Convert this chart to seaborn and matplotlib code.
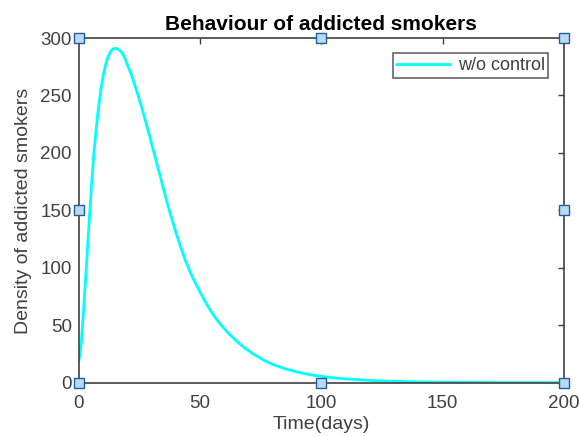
import numpy as np
import pandas as pd
import matplotlib
matplotlib.use("Agg")
import matplotlib.pyplot as plt
import seaborn as sns

# values
days = [0, 1, 2, 3, 4, 5, 6, 7, 8, 9, 10, 11, 12, 13, 14, 15, 16, 17, 18, 19,
        20, 22, 24, 26, 28, 30, 32, 34, 36, 38, 40, 42, 44, 46, 48, 50, 52,
        54, 56, 58, 60, 62, 64, 66, 68, 70, 72, 74, 76, 78, 80, 85, 90, 95,
        100, 105, 110, 120, 130, 140, 150, 175, 200]
smokers = [19, 35, 65, 98, 132, 165, 195, 218, 238, 254, 267, 276.5, 283.5,
           288, 290.5, 291, 290.5, 289, 286.5, 282.5,
           277, 266, 253, 239, 224, 208, 192, 176, 160, 145, 131, 118, 106,
           96, 87, 79, 71, 64, 57.5, 52, 47, 42.5, 38.5, 34.5, 31, 28, 25,
           22.5, 20, 18, 16, 12.3, 9.4, 7.2, 5.6, 4.3, 3.4, 2.1, 1.3, 0.8,
           0.5, 0.2, 0.1]

df = pd.DataFrame({"day": days, "smokers": smokers})

sns.set_style("white")
plt.rcParams["font.family"] = ["Liberation Sans", "DejaVu Sans"]

fig = plt.figure(figsize=(5.8, 4.37), dpi=100)
ax = fig.add_axes([0.136, 0.124, 0.836, 0.789])

sns.lineplot(data=df, x="day", y="smokers", color="#00FFFF", linewidth=2,
             label="w/o control", ax=ax)

ax.set_xlim(0, 200)
ax.set_ylim(0, 300)
ax.set_xticks([0, 50, 100, 150, 200])
ax.set_yticks([0, 50, 100, 150, 200, 250, 300])

grey = "#404040"
for s in ax.spines.values():
    s.set_color(grey)
    s.set_linewidth(1.2)
ax.tick_params(direction="in", length=4, width=1, colors=grey, labelsize=13.5,
               top=True, right=True, labelcolor=grey, pad=5)
ax.tick_params(axis="x", pad=9)

ax.set_title("Behaviour of addicted smokers", fontsize=15, fontweight="bold",
             color="black", pad=6)
ax.set_xlabel("Time(days)", fontsize=14, color=grey, labelpad=3)
ax.set_ylabel("Density of addicted smokers", fontsize=14, color=grey, labelpad=6)

leg = ax.legend(loc="upper right", fontsize=13, frameon=True, fancybox=False,
                borderaxespad=0.85, handlelength=3.0, borderpad=0.2,
                handletextpad=0.4)
leg.get_frame().set_edgecolor(grey)
leg.get_frame().set_linewidth(1.2)
for t in leg.get_texts():
    t.set_color(grey)

# selection handles at corners and edge midpoints
hx = [0, 0.5, 1, 0, 1, 0, 0.5, 1]
hy = [0, 0, 0, 0.5, 0.5, 1, 1, 1]
ax.plot(hx, hy, linestyle="none", marker="s", markersize=7,
        markerfacecolor="#bcd9f0", markeredgecolor="#1f5fa0",
        markeredgewidth=1, transform=ax.transAxes, clip_on=False, zorder=5)

fig.savefig("out.png", dpi=100)
